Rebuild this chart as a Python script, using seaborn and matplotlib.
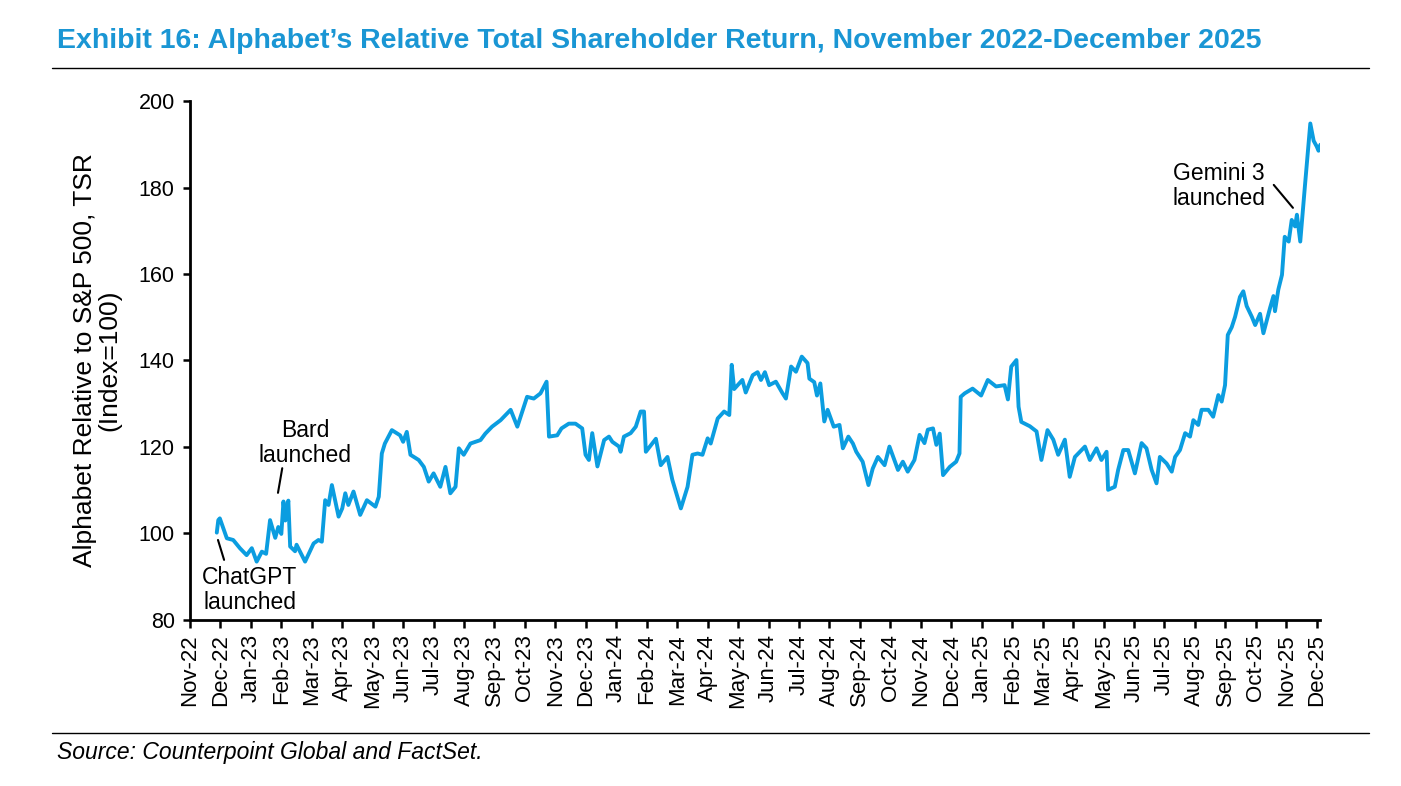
import matplotlib
matplotlib.use("Agg")
import matplotlib.pyplot as plt
import seaborn as sns
import pandas as pd

# months since Nov-2022 (0 = Nov-22 tick)
months = [0.88,0.93,0.98,1.21,1.42,1.64,1.86,2.03,2.19,2.36,2.5,2.63,2.8,2.9,3.0,3.07,3.13,3.23,3.29,3.45,3.5,3.78,
 4.06,4.22,4.33,4.44,4.55,4.66,4.88,5.0,5.1,5.2,5.37,5.59,5.81,6.09,6.2,6.3,6.4,6.63,6.9,7.0,7.12,7.24,7.51,7.68,
 7.84,8.0,8.22,8.39,8.55,8.72,8.83,8.99,9.21,9.54,9.7,9.92,10.2,10.53,10.75,11.07,11.29,11.51,11.71,11.79,12.06,
 12.2,12.44,12.66,12.88,12.99,13.1,13.21,13.38,13.6,13.76,13.87,14.09,14.14,14.25,14.47,14.64,14.8,14.91,14.97,
 15.3,15.46,15.68,15.84,16.12,16.34,16.5,16.67,16.83,17.0,17.1,17.33,17.54,17.71,17.79,17.87,18.14,18.25,18.48,
 18.64,18.75,18.88,19.02,19.24,19.46,19.57,19.74,19.9,20.09,20.28,20.34,20.5,20.59,20.7,20.83,20.94,21.14,21.33,
 21.44,21.62,21.77,21.88,22.09,22.28,22.42,22.59,22.81,22.97,23.25,23.41,23.57,23.79,23.96,24.12,24.23,24.4,24.51,
 24.62,24.73,24.95,25.16,25.27,25.31,25.44,25.7,25.98,26.2,26.47,26.75,26.86,26.97,27.14,27.21,27.3,27.58,27.8,
 27.96,28.16,28.35,28.51,28.73,28.89,29.06,29.39,29.55,29.77,29.93,30.1,30.15,30.37,30.48,30.65,30.81,31.03,31.25,
 31.41,31.58,31.74,31.85,32.07,32.24,32.35,32.51,32.68,32.84,32.95,33.11,33.22,33.44,33.6,33.77,33.88,33.99,34.08,
 34.21,34.32,34.48,34.59,34.7,34.87,34.98,35.14,35.25,35.47,35.58,35.63,35.74,35.86,35.95,36.08,36.18,36.29,36.35,
 36.46,36.62,36.79,36.9,37.0,37.06,37.12]
values = [100.2,103.1,103.5,98.9,98.5,96.6,95.0,96.6,93.5,95.8,95.3,103.1,99.0,101.5,99.9,107.4,103.0,107.6,97.0,95.9,97.4,93.5,
 97.7,98.5,98.1,107.7,106.6,111.2,103.9,105.8,109.3,106.6,109.7,104.3,107.7,106.2,108.5,118.5,120.8,123.9,122.7,121.2,123.5,118.2,117.0,115.4,
 112.0,113.9,110.8,115.4,109.3,110.8,119.7,118.2,120.8,121.6,123.1,124.7,126.2,128.6,124.7,131.6,131.2,132.4,135.1,122.4,122.7,
 124.3,125.4,125.4,124.3,118.2,117.0,123.2,115.5,121.6,122.4,121.2,120.1,118.9,122.4,123.2,124.7,128.2,128.2,118.9,
 121.9,115.8,117.7,112.4,105.8,110.8,118.2,118.5,118.2,122.0,120.8,126.6,128.2,127.4,139.0,133.4,135.5,132.6,136.6,
 137.3,135.5,137.3,134.3,135.1,132.4,131.2,138.6,137.4,140.9,139.4,135.8,135.0,131.9,134.7,125.9,128.6,124.7,125.1,
 119.7,122.4,120.8,118.9,116.6,111.2,115.0,117.7,115.8,120.1,114.7,116.6,114.3,117.0,122.8,120.9,124.0,124.3,120.5,
 123.1,113.5,115.4,116.6,118.5,131.6,132.4,133.5,131.9,135.5,134.0,134.3,131.0,138.6,140.1,129.3,125.8,124.8,123.6,
 117.0,123.9,121.7,118.2,121.7,113.1,117.7,120.1,117.0,119.7,117.0,118.9,110.1,110.8,114.7,119.3,119.3,113.9,120.9,
 119.7,114.7,111.6,117.7,116.2,114.3,117.7,119.3,123.2,122.4,126.2,125.1,128.6,128.6,127.0,132.0,130.5,134.3,145.9,
 147.7,150.1,154.7,156.0,152.6,150.1,148.2,150.8,146.3,152.2,154.9,151.4,156.4,159.8,168.6,167.5,172.5,171.0,173.7,
 167.5,180.9,194.8,190.8,189.5,188.5,189.9]
tick_labels = ["Nov-22","Dec-22","Jan-23","Feb-23","Mar-23","Apr-23","May-23","Jun-23","Jul-23","Aug-23","Sep-23",
 "Oct-23","Nov-23","Dec-23","Jan-24","Feb-24","Mar-24","Apr-24","May-24","Jun-24","Jul-24","Aug-24","Sep-24",
 "Oct-24","Nov-24","Dec-24","Jan-25","Feb-25","Mar-25","Apr-25","May-25","Jun-25","Jul-25","Aug-25","Sep-25",
 "Oct-25","Nov-25","Dec-25"]

sns.set_style("white")
plt.rcParams['font.family'] = ['Liberation Sans', 'DejaVu Sans']
plt.rcParams['text.color'] = 'black'
plt.rcParams['axes.labelcolor'] = 'black'
plt.rcParams['xtick.color'] = 'black'
plt.rcParams['ytick.color'] = 'black'
BLUE = "#0b9de0"

fig = plt.figure(figsize=(14.01, 7.86), dpi=100)
ax = fig.add_axes([0.1356, 0.2112, 0.8064, 0.6603])
df = pd.DataFrame({"m": months, "v": values})
sns.lineplot(data=df, x="m", y="v", ax=ax, color=BLUE, linewidth=2.8)

ax.set_xlim(0, 37.1)
ax.set_ylim(80, 200)
ax.set_yticks(range(80, 201, 20))
ax.set_xticks(range(len(tick_labels)))
ax.set_xticklabels(tick_labels, rotation=90, fontsize=16)
ax.tick_params(axis='y', labelsize=15.5, length=5, width=1.8, direction='out', left=True, pad=6)
ax.tick_params(axis='x', length=6, width=1.8, direction='out', bottom=True, pad=4)
for s in ["top", "right"]:
    ax.spines[s].set_visible(False)
for s in ["left", "bottom"]:
    ax.spines[s].set_color("black")
    ax.spines[s].set_linewidth(2)
ax.set_xlabel("")
ax.set_ylabel("Alphabet Relative to S&P 500, TSR\n(Index=100)", fontsize=19, linespacing=1.05, labelpad=12)

ax.text(3.78, 120.9, "Bard\nlaunched", ha="center", va="center", fontsize=16.5, linespacing=1.1)
ax.plot([3.03, 2.89], [115.1, 109.4], color="black", lw=1.5)
ax.text(1.97, 86.9, "ChatGPT\nlaunched", ha="center", va="center", fontsize=16.5, linespacing=1.1)
ax.plot([0.92, 1.12], [98.5, 93.9], color="black", lw=1.5)
ax.text(33.78, 180.3, "Gemini 3\nlaunched", ha="center", va="center", fontsize=16.5, linespacing=1.1)
ax.plot([35.59, 36.22], [180.6, 175.3], color="black", lw=1.5)

fig.text(0.041, 0.948, "Exhibit 16: Alphabet\u2019s Relative Total Shareholder Return, November 2022-December 2025",
         color="#1a96d4", fontsize=20.5, fontweight="bold", va="center")
fig.add_artist(plt.Line2D([0.037, 0.977], [0.914, 0.914], color="black", lw=1))
fig.add_artist(plt.Line2D([0.037, 0.977], [0.067, 0.067], color="black", lw=1))
fig.text(0.041, 0.043, "Source: Counterpoint Global and FactSet.", fontsize=16.5, style="italic", va="center")

fig.savefig("out.png", dpi=100)
